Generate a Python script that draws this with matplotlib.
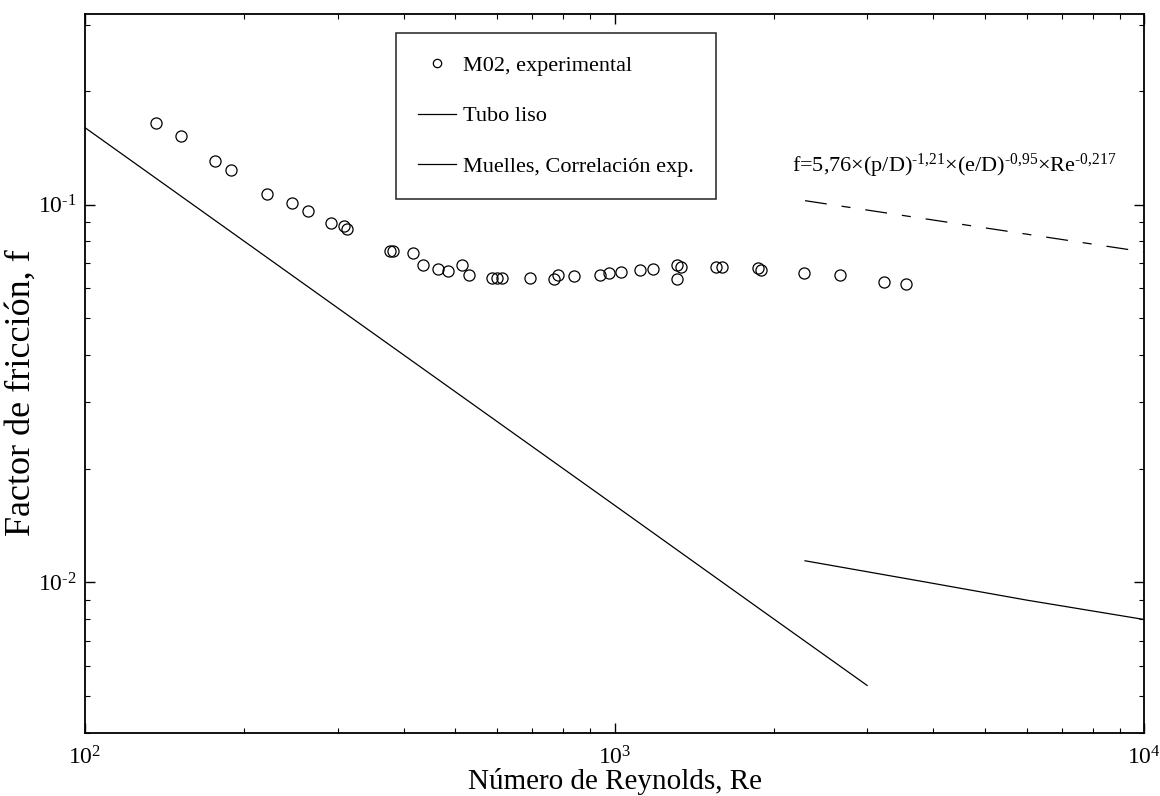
import numpy as np
import matplotlib
matplotlib.use('Agg')
import matplotlib.pyplot as plt
from matplotlib.ticker import FuncFormatter

plt.rcParams['font.family'] = ['Liberation Serif', 'DejaVu Serif']
plt.rcParams['mathtext.fontset'] = 'custom'
plt.rcParams['mathtext.rm'] = 'Liberation Serif'
plt.rcParams['mathtext.it'] = 'Liberation Serif:italic'
plt.rcParams['lines.scale_dashes'] = False

# experimental points, M02
re_exp = [136, 152, 176, 189, 221, 246, 264, 292, 309, 313, 376, 381, 416, 435,
          464, 484, 516, 530, 586, 599, 613, 693, 769, 783, 840, 938, 978, 1029,
          1116, 1182, 1312, 1337, 1312, 1555, 1594, 1869, 1893, 2276, 2666, 3228, 3548]
f_exp = [0.1645, 0.152, 0.1307, 0.1238, 0.1069, 0.101, 0.0962, 0.0895, 0.0876, 0.086,
         0.0752, 0.0752, 0.0746, 0.0694, 0.0676, 0.0666, 0.0691, 0.0652, 0.0641, 0.0641,
         0.0641, 0.0641, 0.0634, 0.0653, 0.0646, 0.0652, 0.0658, 0.0662, 0.0673, 0.0677,
         0.0693, 0.0684, 0.0636, 0.0684, 0.0684, 0.0679, 0.0672, 0.066, 0.0652, 0.0626, 0.0617]

# smooth tube
re_liso = [100, 300, 1000, 1880, 2570, 3000]
f_liso = [0.16, 0.0533, 0.016, 0.0085, 0.00622, 0.00533]

# springs, experimental correlation
re_corr = [2290, 3890, 6000, 10000]
f_corr = [0.0114, 0.0100, 0.00897, 0.00797]

# correlation f=5,76...
re_fit = [2290, 10000]
f_fit = [0.1025, 0.075]

fit_label = (r'f=5,76$\times$(p/D)$^{\text{-1,21}}$$\times$(e/D)$^{\text{-0,95}}$'
             r'$\times$Re$^{\text{-0,217}}$')


def pow10(v, pos):
    e = int(np.round(np.log10(v)))
    if e < 0:
        return r'$10^{\text{-%d}}$' % (-e)
    return r'$10^{%d}$' % e


fig = plt.figure(figsize=(11.6, 7.96), dpi=100)
ax = fig.add_axes([85/1160, 1-732.5/796, (1144-85)/1160, (732.5-14)/796])

ax.plot(re_exp, f_exp, 'o', mfc='none', mec='black', ms=8, mew=0.9,
        label='M02, experimental')
ax.plot(re_liso, f_liso, '-', color='black', lw=0.9, label='Tubo liso')
ax.plot(re_corr, f_corr, '-', color='black', lw=0.9, label='Muelles, Correlación exp.')
ax.plot(re_fit, f_fit, color='black', lw=0.9, dashes=(15.8, 10.8, 6.5, 10.8))

ax.set_xscale('log')
ax.set_yscale('log')
ax.set_xlim(100, 10000)
ax.set_ylim(0.004, 0.32)
ax.xaxis.set_major_formatter(FuncFormatter(pow10))
ax.yaxis.set_major_formatter(FuncFormatter(pow10))

ax.tick_params(which='both', direction='in', top=True, right=True, labelsize=17)
ax.tick_params(which='major', length=7, width=1)
ax.tick_params(which='minor', length=3.5, width=0.8)
ax.tick_params(axis='x', pad=10)
ax.tick_params(axis='y', pad=6)
for s in ax.spines.values():
    s.set_linewidth(1.3)

ax.set_xlabel('Número de Reynolds, Re', fontsize=21, labelpad=-1)
ax.set_ylabel('Factor de fricción, f', fontsize=26)
ax.yaxis.set_label_coords(-0.045, 0.4725)

ax.text(2163, 0.116, fit_label, fontsize=16, ha='left', va='bottom')

leg = ax.legend(loc='upper left', bbox_to_anchor=(0.2937, 0.9736), borderaxespad=0,
                fontsize=16, frameon=True, fancybox=False, edgecolor='black',
                handlelength=1.7, labelspacing=1.35, borderpad=1.0,
                handletextpad=0.3, markerscale=0.75)
leg.get_frame().set_linewidth(1.2)

fig.savefig('out.png', dpi=100)
